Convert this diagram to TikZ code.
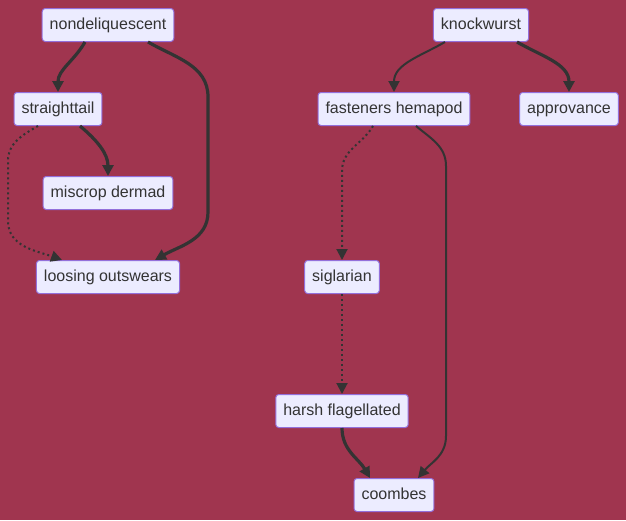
\documentclass[tikz,border=0pt]{standalone}
\usepackage{fontspec}
\setmainfont{Liberation Sans}
\usepackage{tikz}
\usetikzlibrary{positioning, arrows.meta, calc}
\usepackage{xcolor}
\definecolor{bgred}{HTML}{A0354F}
\definecolor{boxfill}{HTML}{ECECFF}
\definecolor{boxline}{HTML}{9370DB}
\definecolor{inkgray}{HTML}{333333}

\begin{document}
\begin{tikzpicture}[
    x=1pt, y=1pt,
    term/.style={rectangle, draw=boxline, fill=boxfill, line width=1pt, rounded corners=3pt, text=inkgray, font=\fontsize{16}{18}\selectfont, inner xsep=7.5pt, text height=11.5pt, text depth=3.5pt, minimum height=33pt},
    link/.style={-{Triangle[length=11pt, width=11pt]}, draw=inkgray, line width=2pt},
    boldlink/.style={link, line width=3.2pt},
    dotlink/.style={link, dash pattern=on 2pt off 3pt}
]
    % background and page size
    \fill[bgred] (0,0) rectangle (626,-520);
    \useasboundingbox (0,0) rectangle (626,-520);

    % Left tree
    \node[term] (nd) at (108,-25) {nondeliquescent};
    \node[term] (st) at (58,-109) {straighttail};
    \node[term] (md) at (108,-193) {miscrop dermad};
    \node[term] (lo) at (108,-277) {loosing outswears};

    % Right tree
    \node[term] (kw) at (481,-25) {knockwurst};
    \node[term] (fh) at (394,-109) {fasteners hemapod};
    \node[term] (ap) at (569,-109) {approvance};
    \node[term] (sg) at (342,-277) {siglarian};
    \node[term] (hf) at (342,-411) {harsh flagellated};
    \node[term] (co) at (394,-495) {coombes};

    % Arrows
    \draw[boldlink] ([xshift=-23pt]nd.south) to[out=-120, in=90] (st.north);
    \draw[boldlink] ([xshift=40pt]nd.south) to[out=-30, in=90] ++(60,-55) -- ++(0,-115) to[out=-90, in=30] ([xshift=47pt]lo.north);
    \draw[boldlink] ([xshift=22pt]st.south) to[out=-40, in=90] (md.north);
    \draw[dotlink] ([xshift=-20pt]st.south) to[out=-150, in=90] ++(-30,-35) -- ++(0,-60) to[out=-90, in=160] ([xshift=-46pt]lo.north);

    \draw[link] ([xshift=-36pt]kw.south) to[out=-150, in=90] (fh.north);
    \draw[boldlink] ([xshift=36pt]kw.south) to[out=-30, in=90] (ap.north);
    \draw[dotlink] ([xshift=-21pt]fh.south) to[out=-120, in=90] ++(-31,-45) -- (sg.north);
    \draw[link] ([xshift=22pt]fh.south) to[out=-40, in=90] ++(30,-40) -- ++(0,-270) to[out=-90, in=50] ([xshift=24pt]co.north);
    \draw[dotlink] (sg.south) -- (hf.north);
    \draw[boldlink] (hf.south) to[out=-90, in=120] ([xshift=-24pt]co.north);
\end{tikzpicture}
\end{document}
